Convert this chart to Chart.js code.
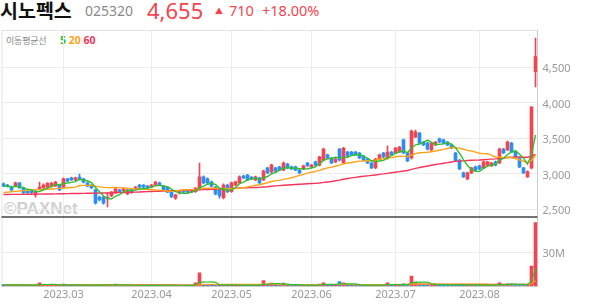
<!DOCTYPE html>
<html><head><meta charset="utf-8">
<script src="https://cdn.jsdelivr.net/npm/chart.js@4"></script>
<style>
html,body{margin:0;padding:0;background:#fff;}
body{width:594px;height:304px;overflow:hidden;position:relative;font-family:"Noto Sans CJK KR","Noto Sans",sans-serif;}
.t{position:absolute;white-space:nowrap;line-height:1;}
#wm{position:absolute;left:4px;top:199px;font:bold 17px "Liberation Sans",Arial,sans-serif;color:#d0d0d0;z-index:0;}
#c{position:absolute;left:0;top:0;z-index:1;}
</style></head><body>
<div class="t" style="left:0;top:0px;font-size:19.5px;font-weight:bold;color:#111;">시노펙스</div>
<div class="t" style="left:85px;top:4px;font-size:14px;color:#8a8a8a;font-family:'Noto Sans',sans-serif;">025320</div>
<div class="t" style="left:147px;top:-1px;font-size:22px;color:#f2454f;font-family:'Noto Sans',sans-serif;">4,655</div>
<div class="t" style="left:215px;top:7px;font-size:8px;color:#f2454f;">▲</div>
<div class="t" style="left:229px;top:3px;font-size:14.5px;color:#f2454f;font-family:'Noto Sans',sans-serif;">710</div>
<div class="t" style="left:262px;top:3px;font-size:14.5px;color:#f2454f;font-family:'Noto Sans',sans-serif;">+18.00%</div>
<div class="t" style="left:6px;top:36px;font-size:9px;letter-spacing:-0.2px;color:#888;font-family:'Noto Sans CJK KR',sans-serif;">이동평균선</div>
<div class="t" style="left:60px;top:35px;font-size:10.5px;font-weight:bold;font-family:'Noto Sans',sans-serif;"><span style="color:#2fbf2f">5</span> <span style="color:#ffa31a">20</span> <span style="color:#f5365c">60</span></div>
<div id="wm">©PAXNet</div>
<canvas id="c" width="594" height="304"></canvas>
<script>
// trading days (2023)
const febDays=[8,9,10,13,14,15,16,17,20,21,22,23,24,27,28];
const marDays=[2,3,6,7,8,9,10,13,14,15,16,17,20,21,22,23,24,27,28,29,30,31];
const aprDays=[3,4,5,6,7,10,11,12,13,14,17,18,19,20,21,24,25,26,27,28];
const mayDays=[2,3,4,8,9,10,11,12,15,16,17,18,19,22,23,24,25,26,30,31];
const junDays=[1,2,5,7,8,9,12,13,14,15,16,19,20,21,22,23,26,27,28,29,30];
const julDays=[3,4,5,6,7,10,11,12,13,14,17,18,19,20,21,24,25,26,27,28,31];
const augDays=[1,2,3,4,7,8,9,10,11,14,16,17,18,21,22];

const open=[2860,2845,2815,2830,2875,2805,2760,2755,2705,2790, 2805,2815,2820,2830,2845,2815,2930,2945,2915,2955, 2930,2875,2845,2775,2675,2675,2650,2690,2735,2775, 2760,2720,2775,2790,2845,2845,2830,2815,2845,2875, 2830,2815,2750,2660,2730,2775,2760,2745,2750,2805, 2960,2930,2890,2815,2790,2665,2845,2750,2845,2875, 2970,2985,2955,2915,2945,2915,3085,3030,3085,3100, 3055,3140,3100,3100,3055,3070,3155,3100,3170,3125, 3195,3270,3225,3170,3350,3155,3310,3310,3310,3295, 3255,3210,3155,3085,3210,3295,3225,3310,3295,3310, 3480,3295,3225,3520,3575,3450,3435,3340,3410,3495, 3480,3450,3410,3295,3195,3015,2930,3015,3100,3115, 3085,3125,3115,3170,3155,3350,3340,3435,3310,3225, 3085,2960,3085,4440];
const high=[2875,2855,2830,2885,2880,2815,2770,2765,2775,2885, 2860,2880,2885,2895,2850,2945,2940,2955,2955,3000, 2940,2880,2850,2785,2690,2690,2735,2755,2800,2785, 2800,2785,2785,2825,2855,2850,2840,2855,2895,2885, 2840,2820,2760,2715,2770,2785,2770,2780,2810,3155, 2975,2945,2900,2825,2800,2860,2855,2885,2900,2975, 2985,2995,2965,2970,2955,3055,3095,3140,3095,3110, 3170,3150,3110,3110,3065,3125,3165,3135,3180,3250, 3365,3280,3235,3220,3360,3375,3320,3320,3320,3305, 3265,3220,3165,3220,3280,3305,3395,3320,3375,3390, 3490,3305,3620,3620,3585,3460,3445,3445,3460,3505, 3490,3460,3420,3305,3205,3025,3025,3095,3110,3125, 3180,3180,3165,3180,3365,3360,3465,3445,3320,3235, 3095,3045,3945,4915];
const low=[2820,2815,2765,2820,2795,2725,2725,2720,2675,2775, 2795,2805,2815,2825,2765,2805,2890,2905,2905,2915, 2875,2820,2795,2575,2620,2575,2535,2680,2725,2735, 2750,2710,2725,2780,2805,2805,2795,2805,2835,2835, 2765,2735,2665,2640,2720,2735,2735,2735,2740,2790, 2865,2860,2820,2705,2660,2650,2735,2740,2835,2865, 2935,2905,2920,2905,2865,2905,3005,3020,3030,3045, 3045,3075,3060,3045,3005,3060,3105,3090,3115,3115, 3185,3215,3145,3160,3185,3145,3245,3260,3260,3215, 3185,3145,3075,3075,3200,3230,3210,3260,3285,3300, 3285,3175,3210,3510,3425,3400,3340,3330,3400,3440, 3425,3400,3355,3175,3060,2950,2920,3005,3045,3060, 3075,3115,3105,3115,3145,3285,3330,3300,3230,3090, 3005,2950,3070,4225];
const close=[2830,2830,2775,2875,2805,2735,2735,2735,2745,2815, 2845,2870,2870,2885,2775,2930,2900,2915,2945,2930, 2885,2830,2805,2590,2635,2590,2670,2745,2790,2745, 2790,2775,2735,2815,2815,2815,2805,2845,2885,2845, 2775,2745,2680,2705,2760,2745,2745,2770,2800,2960, 2875,2875,2830,2720,2690,2845,2750,2875,2890,2960, 2945,2915,2930,2960,2875,3040,3015,3125,3040,3055, 3155,3085,3070,3055,3015,3115,3115,3125,3125,3240, 3350,3225,3155,3210,3195,3365,3255,3270,3270,3225, 3195,3155,3085,3210,3270,3240,3310,3270,3365,3380, 3295,3185,3605,3590,3435,3410,3350,3435,3450,3450, 3435,3410,3365,3185,3070,2960,3015,3085,3055,3070, 3170,3170,3155,3125,3350,3295,3450,3310,3240,3100, 3015,3035,3945,4655];
// volume, millions of shares
const volume=[1.2,0.9,1.0,1.1,0.9,1.0,0.7,0.6,0.9,2.9, 1.2,1.0,0.9,1.0,0.8,1.8,0.9,0.8,0.7,1.0, 0.7,0.8,0.7,1.3,0.8,0.9,1.0,0.8,1.8,0.7, 0.6,0.7,0.6,0.7,0.6,0.5,0.6,0.6,0.8,0.6, 0.7,0.6,0.8,0.7,0.6,0.5,0.5,0.6,2.9,11.7, 1.5,1.0,0.9,1.0,1.1,1.0,0.8,0.9,0.8,0.9, 0.7,0.8,0.6,0.7,0.8,4.7,1.2,2.6,1.0,0.9, 2.6,0.9,0.7,0.7,0.8,0.7,0.8,0.7,0.6,1.8, 2.9,0.9,0.8,0.8,3.8,2.9,1.0,0.9,0.8,0.8, 0.7,0.8,0.9,1.0,0.9,0.8,2.9,0.8,0.9,1.0, 1.8,1.0,8.8,3.5,2.0,1.4,1.2,1.3,1.0,1.1, 1.2,1.0,0.9,1.2,1.1,1.0,0.9,0.8,0.8,0.7, 0.9,0.8,0.7,0.8,2.9,1.1,1.8,1.8,1.2,1.0, 1.1,1.2,17.6,55.9];
const ma20Head=[2740,2745,2750,2755,2760,2765,2770,2773,2776,2779,2782,2785,2789,2793,2797,2801,2805,2810,2815];
const ma60Head=[2710,2711,2712,2712,2713,2714,2714,2715,2716,2716, 2717,2718,2719,2720,2721,2722,2723,2724,2725,2726, 2727,2728,2729,2730,2731,2732,2733,2734,2735,2737, 2739,2741,2743,2745,2747,2749,2751,2753,2755,2757, 2759,2761,2763,2765,2767,2769,2771,2773,2775,2777, 2779,2781,2783,2785,2787,2789,2791,2794,2797];
const priceTicks=[2500,3000,3500,4000,4500];
const volTicks=[30];

const RED='#f2454f', BLUE='#2b8ef0', C5='#2fbf2f', C20='#ffa31a', C60='#f5365c';

const months=[['02',febDays],['03',marDays],['04',aprDays],['05',mayDays],['06',junDays],['07',julDays],['08',augDays]];
const categories=[]; const monthStart=new Set();
months.forEach(([m,ds])=>ds.forEach((d,k)=>{ if(k===0&&m!=='02') monthStart.add(categories.length); categories.push('2023.'+m+'.'+String(d).padStart(2,'0')); }));

function sma(arr,n,head){ return arr.map((v,i)=>{ if(i<n-1){ if(head) return head[i]; let s=0; for(let k=0;k<=i;k++) s+=arr[k]; return s/(i+1);} let s=0; for(let k=i-n+1;k<=i;k++) s+=arr[k]; return s/n; }); }

const up=close.map((c,i)=>c>=open[i]);
const col=up.map(u=>u?RED:BLUE);
const ma5=sma(close,5), ma20=sma(close,20,ma20Head), ma60=sma(close,60,ma60Head);
const vma5=sma(volume,5), vma20=sma(volume,20), vma60=sma(volume,60);

const line=(data,color,axis,w)=>({type:'line',data,borderColor:color,borderWidth:w,pointRadius:0,tension:0,yAxisID:axis,order:0,fill:false});

const framePlugin={id:'frame',
  beforeDraw(c){const {ctx,chartArea:a}=c;ctx.save();ctx.strokeStyle='#e2e2e2';ctx.lineWidth=1;ctx.beginPath();ctx.moveTo(a.left,a.top+0.5);ctx.lineTo(a.right,a.top+0.5);ctx.moveTo(a.left+0.5,a.top);ctx.lineTo(a.left+0.5,a.bottom);ctx.stroke();ctx.restore();},
  afterDraw(c){const {ctx,chartArea:a,scales}=c;ctx.save();ctx.strokeStyle='#444';ctx.lineWidth=1.5;const yb=scales.y.bottom;ctx.beginPath();ctx.moveTo(a.left,yb);ctx.lineTo(a.right,yb);ctx.stroke();ctx.restore();}
};

new Chart(document.getElementById('c'),{
  type:'bar',
  data:{labels:categories,datasets:[
    line(ma5,C5,'y',1.4), line(ma20,C20,'y',1.4), line(ma60,C60,'y',1.4),
    {type:'bar',data:low.map((l,i)=>[l,high[i]]),backgroundColor:col,barThickness:1,grouped:false,yAxisID:'y',order:2},
    {type:'bar',data:open.map((o,i)=>[o,close[i]]),backgroundColor:col,barThickness:3,minBarLength:1,grouped:false,yAxisID:'y',order:1},
    {type:'bar',data:volume,backgroundColor:col,barThickness:3,grouped:false,yAxisID:'yv',order:3},
    line(vma5,C5,'yv',1.2), line(vma20,C20,'yv',1.2), line(vma60,C60,'yv',1.2)
  ]},
  options:{
    responsive:false, animation:false, devicePixelRatio:1,
    layout:{padding:{left:1.5,top:30,right:0,bottom:0}},
    plugins:{legend:{display:false},tooltip:{enabled:false}},
    scales:{
      x:{type:'category',offset:true,
        grid:{offset:false,color:'#ececec',drawTicks:false},
        border:{color:'#cccccc'},
        ticks:{autoSkip:false,maxRotation:0,color:'#999',font:{size:11,family:'Noto Sans'},padding:2,
          callback:(v,i)=>monthStart.has(i)?categories[i].slice(0,7):null},
        afterFit:s=>{s.height=18;}},
      y:{position:'right',stack:'p',stackWeight:187,min:2394,max:5028,
        afterBuildTicks:s=>{s.ticks=priceTicks.map(v=>({value:v}));},
        afterFit:s=>{s.width=56.5;},
        grid:{color:'#ececec',drawTicks:false},
        border:{color:'#cccccc'},
        ticks:{color:'#999',font:{size:11,family:'Noto Sans'},padding:5,labelOffset:1.5,callback:v=>v.toLocaleString('en-US')}},
      yv:{position:'right',stack:'p',stackWeight:69,min:0,max:60.9,
        afterBuildTicks:s=>{s.ticks=volTicks.map(v=>({value:v}));},
        afterFit:s=>{s.width=56.5;},
        grid:{color:'#ececec',drawTicks:false},
        border:{color:'#cccccc'},
        ticks:{color:'#999',font:{size:11,family:'Noto Sans'},padding:5,labelOffset:1.5,callback:v=>v+'M'}}
    }
  },
  plugins:[framePlugin]
});
</script>
</body></html>
